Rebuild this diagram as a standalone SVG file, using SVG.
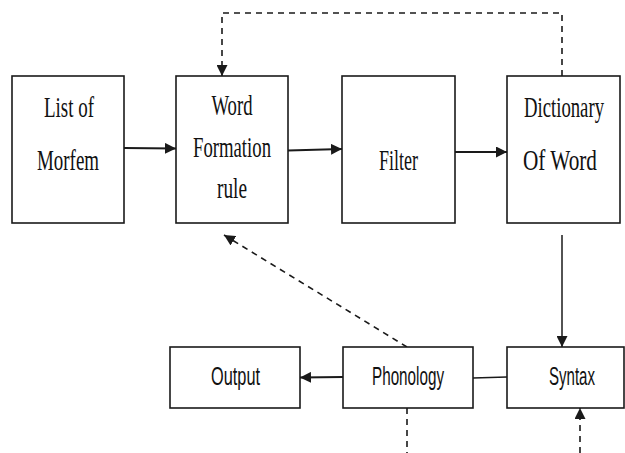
<svg xmlns="http://www.w3.org/2000/svg" width="625" height="453" viewBox="0 0 625 453">
  <style>
    .box { fill: #fff; stroke: #1a1a1a; stroke-width: 1.6; }
    .serif { font-family: "Liberation Serif", "Times New Roman", serif; font-size: 30px; fill: #111; text-anchor: middle; }
    .sans { font-family: "Liberation Sans", Arial, sans-serif; font-size: 25px; fill: #111; text-anchor: middle; }
    .line { fill: none; stroke: #1a1a1a; stroke-width: 2; }
    .thin { fill: none; stroke: #1a1a1a; stroke-width: 1.5; }
    .dash { fill: none; stroke: #1a1a1a; stroke-width: 1.6; stroke-dasharray: 6 5; }
  </style>
  <defs>
    <marker id="arrow" viewBox="0 0 10 10" refX="10" refY="5" markerWidth="11" markerHeight="11" markerUnits="userSpaceOnUse" orient="auto">
      <path d="M0,0 L10,5 L0,10 Z" fill="#1a1a1a"/>
    </marker>
  </defs>

  <rect width="625" height="453" fill="#fff"/>

  <g id="connectors">
    <!-- solid flow arrows along the top row -->
    <line class="line" x1="124" y1="148" x2="176" y2="148.5" marker-end="url(#arrow)"/>
    <line class="line" x1="288" y1="150.5" x2="342" y2="149" marker-end="url(#arrow)"/>
    <line class="line" x1="455" y1="152" x2="507" y2="152" marker-end="url(#arrow)"/>
    <!-- dictionary down to syntax -->
    <line class="thin" x1="562" y1="235" x2="562" y2="347" marker-end="url(#arrow)"/>
    <!-- bottom row -->
    <line class="line" x1="343" y1="377" x2="300" y2="377.5" marker-end="url(#arrow)"/>
    <line class="thin" x1="473" y1="378" x2="507" y2="377"/>
    <!-- dashed feedback paths -->
    <polyline class="dash" points="562,76 562,13 222,13 222,76" marker-end="url(#arrow)"/>
    <line class="dash" x1="407" y1="347" x2="224" y2="235" marker-end="url(#arrow)"/>
    <line class="dash" x1="407" y1="408" x2="407" y2="453"/>
    <line class="dash" x1="580" y1="453" x2="580" y2="408" marker-end="url(#arrow)"/>
  </g>

  <g id="list-of-morfem">
    <rect class="box" x="12" y="76" width="112" height="147"/>
    <text class="serif" x="69" y="117" textLength="50" lengthAdjust="spacingAndGlyphs">List of</text>
    <text class="serif" x="68" y="170" textLength="62" lengthAdjust="spacingAndGlyphs">Morfem</text>
  </g>

  <g id="word-formation-rule">
    <rect class="box" x="176" y="76" width="112" height="147"/>
    <text class="serif" x="232" y="115" textLength="41" lengthAdjust="spacingAndGlyphs">Word</text>
    <text class="serif" x="232" y="157" textLength="78" lengthAdjust="spacingAndGlyphs">Formation</text>
    <text class="serif" x="232" y="198" textLength="30" lengthAdjust="spacingAndGlyphs">rule</text>
  </g>

  <g id="filter">
    <rect class="box" x="342" y="76" width="113" height="147"/>
    <text class="serif" x="398.5" y="170" textLength="39" lengthAdjust="spacingAndGlyphs">Filter</text>
  </g>

  <g id="dictionary-of-word">
    <rect class="box" x="507" y="76" width="113" height="147"/>
    <text class="serif" x="564" y="117" textLength="80" lengthAdjust="spacingAndGlyphs">Dictionary</text>
    <text class="serif" x="560" y="170" textLength="74" lengthAdjust="spacingAndGlyphs">Of Word</text>
  </g>

  <g id="output">
    <rect class="box" x="170" y="347" width="130" height="61"/>
    <text class="sans" x="235.5" y="385" textLength="49" lengthAdjust="spacingAndGlyphs">Output</text>
  </g>

  <g id="phonology">
    <rect class="box" x="343" y="347" width="130" height="61"/>
    <text class="sans" x="408" y="385" textLength="72" lengthAdjust="spacingAndGlyphs">Phonology</text>
  </g>

  <g id="syntax">
    <rect class="box" x="507" y="347" width="117" height="61"/>
    <text class="sans" x="572" y="385" textLength="46" lengthAdjust="spacingAndGlyphs">Syntax</text>
  </g>
</svg>
